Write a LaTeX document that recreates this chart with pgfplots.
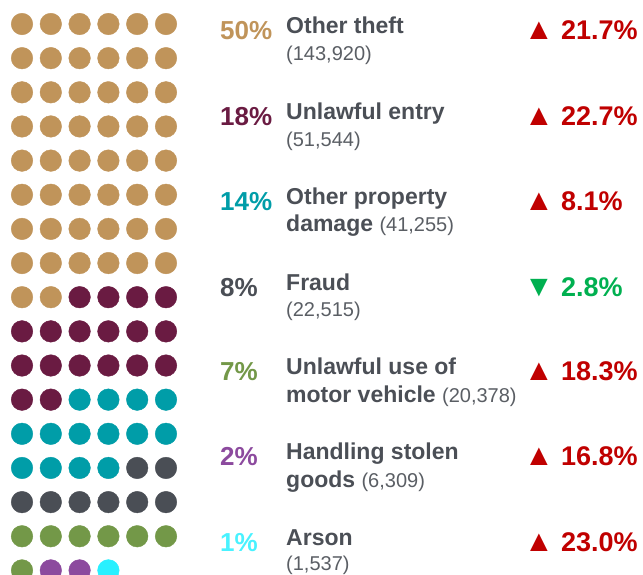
\documentclass[border=0pt]{standalone}
\usepackage{pgfplots}
\pgfplotsset{compat=1.18}
\usepackage{pgfplotstable}
\usepackage{fontspec}
\setmainfont{Liberation Sans}

\definecolor{cTan}{HTML}{C0945A}
\definecolor{cMaroon}{HTML}{6A1B42}
\definecolor{cTeal}{HTML}{009DA8}
\definecolor{cGrey}{HTML}{4A4E55}
\definecolor{cGreen}{HTML}{739848}
\definecolor{cPurple}{HTML}{8C4A9E}
\definecolor{cCyan}{HTML}{29F0FF}
\definecolor{cLab}{HTML}{4B4F56}
\definecolor{cCnt}{HTML}{5A5E64}
\definecolor{cUp}{HTML}{C00000}
\definecolor{cDown}{HTML}{00B050}

% one dot per 1% : column, row, category
\pgfplotstableread[row sep=\\]{
c r k \\
1 1 a \\ 2 1 a \\ 3 1 a \\ 4 1 a \\ 5 1 a \\ 6 1 a \\
1 2 a \\ 2 2 a \\ 3 2 a \\ 4 2 a \\ 5 2 a \\ 6 2 a \\
1 3 a \\ 2 3 a \\ 3 3 a \\ 4 3 a \\ 5 3 a \\ 6 3 a \\
1 4 a \\ 2 4 a \\ 3 4 a \\ 4 4 a \\ 5 4 a \\ 6 4 a \\
1 5 a \\ 2 5 a \\ 3 5 a \\ 4 5 a \\ 5 5 a \\ 6 5 a \\
1 6 a \\ 2 6 a \\ 3 6 a \\ 4 6 a \\ 5 6 a \\ 6 6 a \\
1 7 a \\ 2 7 a \\ 3 7 a \\ 4 7 a \\ 5 7 a \\ 6 7 a \\
1 8 a \\ 2 8 a \\ 3 8 a \\ 4 8 a \\ 5 8 a \\ 6 8 a \\
1 9 a \\ 2 9 a \\ 3 9 b \\ 4 9 b \\ 5 9 b \\ 6 9 b \\
1 10 b \\ 2 10 b \\ 3 10 b \\ 4 10 b \\ 5 10 b \\ 6 10 b \\
1 11 b \\ 2 11 b \\ 3 11 b \\ 4 11 b \\ 5 11 b \\ 6 11 b \\
1 12 b \\ 2 12 b \\ 3 12 c \\ 4 12 c \\ 5 12 c \\ 6 12 c \\
1 13 c \\ 2 13 c \\ 3 13 c \\ 4 13 c \\ 5 13 c \\ 6 13 c \\
1 14 c \\ 2 14 c \\ 3 14 c \\ 4 14 c \\ 5 14 d \\ 6 14 d \\
1 15 d \\ 2 15 d \\ 3 15 d \\ 4 15 d \\ 5 15 d \\ 6 15 d \\
1 16 e \\ 2 16 e \\ 3 16 e \\ 4 16 e \\ 5 16 e \\ 6 16 e \\
1 17 e \\ 2 17 f \\ 3 17 f \\ 4 17 g \\
}\dotdata

\newcommand\cnt{\fontsize{20}{20}\selectfont\mdseries\color{cCnt}}

\tikzset{
  pct/.style={anchor=base west, inner sep=0pt, font=\fontsize{26}{26}\selectfont\bfseries},
  lab/.style={anchor=base west, inner sep=0pt, text=cLab, font=\fontsize{23}{23}\selectfont\bfseries},
  cntn/.style={anchor=base west, inner sep=0pt, text=cCnt, font=\fontsize{20}{20}\selectfont},
  chg/.style={anchor=base west, inner sep=0pt, font=\fontsize{27}{27}\selectfont\bfseries},
  tri/.style={anchor=base west, inner sep=0pt, font=\fontsize{30}{30}\selectfont},
}

\begin{document}
\begin{tikzpicture}
\useasboundingbox (0,0) rectangle (643pt,574pt);
\begin{axis}[
  at={(0,0)}, anchor=south west,
  width=643pt, height=574pt, scale only axis,
  xmin=0, xmax=643, ymin=0, ymax=574, y dir=reverse,
  hide axis, clip marker paths=true,
]
\addplot[scatter, only marks, mark=*, mark size=10.8pt,
  scatter src=explicit symbolic,
  scatter/classes={
    a={draw=cTan, fill=cTan}, b={draw=cMaroon, fill=cMaroon},
    c={draw=cTeal, fill=cTeal}, d={draw=cGrey, fill=cGrey},
    e={draw=cGreen, fill=cGreen}, f={draw=cPurple, fill=cPurple},
    g={draw=cCyan, fill=cCyan}}]
  table[x expr={22+28.8*(\thisrow{c}-1)}, y expr={24+34.15*(\thisrow{r}-1)}, meta=k]{\dotdata};

% percentages
\node[pct, text=cTan]    at (220,39)  {50\%};
\node[pct, text=cMaroon] at (220,125) {18\%};
\node[pct, text=cTeal]   at (220,210) {14\%};
\node[pct, text=cGrey]   at (220,296) {8\%};
\node[pct, text=cGreen]  at (220,380) {7\%};
\node[pct, text=cPurple] at (220,465) {2\%};
\node[pct, text=cCyan!85!white] at (220,551) {1\%};

% labels
\node[lab]  at (286,33)  {Other theft};
\node[cntn] at (286,60)  {(143,920)};
\node[lab]  at (286,119) {Unlawful entry};
\node[cntn] at (286,146) {(51,544)};
\node[lab]  at (286,204) {Other property};
\node[lab]  at (286,231) {damage {\cnt (41,255)}};
\node[lab]  at (286,290) {Fraud};
\node[cntn] at (286,316) {(22,515)};
\node[lab]  at (286,374) {Unlawful use of};
\node[lab]  at (286,402) {motor vehicle {\cnt (20,378)}};
\node[lab]  at (286,459) {Handling stolen};
\node[lab]  at (286,487) {goods {\cnt (6,309)}};
\node[lab]  at (286,545) {Arson};
\node[cntn] at (286,570) {(1,537)};

% change
\node[tri, text=cUp]   at (524,39)  {▲};
\node[chg, text=cUp]   at (561,39)  {21.7\%};
\node[tri, text=cUp]   at (524,125) {▲};
\node[chg, text=cUp]   at (561,125) {22.7\%};
\node[tri, text=cUp]   at (524,210) {▲};
\node[chg, text=cUp]   at (561,210) {8.1\%};
\node[tri, text=cDown] at (524,296) {▼};
\node[chg, text=cDown] at (561,296) {2.8\%};
\node[tri, text=cUp]   at (524,380) {▲};
\node[chg, text=cUp]   at (561,380) {18.3\%};
\node[tri, text=cUp]   at (524,465) {▲};
\node[chg, text=cUp]   at (561,465) {16.8\%};
\node[tri, text=cUp]   at (524,551) {▲};
\node[chg, text=cUp]   at (561,551) {23.0\%};
\end{axis}
\end{tikzpicture}
\end{document}
